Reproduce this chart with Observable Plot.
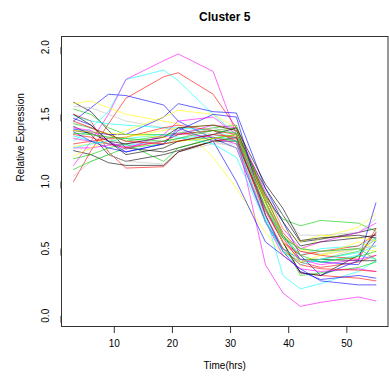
<!DOCTYPE html>
<html>
<head>
<meta charset="utf-8">
<script src="https://cdn.jsdelivr.net/npm/d3@7"></script>
<script src="https://cdn.jsdelivr.net/npm/@observablehq/plot@0.6"></script>
<style>
  html, body { margin: 0; padding: 0; background: #fff; }
  #chart svg { display: block; overflow: visible; }
</style>
</head>
<body>
<div id="chart"></div>
<script>
// ---- data ----
const title = "Cluster 5";
const xLabel = "Time(hrs)";
const yLabel = "Relative Expression";
const times = [3, 6, 9, 12, 18.5, 21, 27, 31, 36, 39, 42, 45.5, 52, 55];
const xTicks = [10, 20, 30, 40, 50];
const yTicks = [0, 0.5, 1, 1.5, 2];

// R default palette names
const paletteColors = {
  black: "#000000", red: "#FF0000", green: "#00CD00", blue: "#0000FF",
  cyan: "#00FFFF", magenta: "#FF00FF", yellow: "#FFFF00", gray: "#BEBEBE"
};

const geneColors = [
  "black", "red", "green", "blue", "cyan", "magenta", "yellow", "gray",
  "black", "red", "green", "blue", "cyan", "magenta", "yellow", "gray",
  "black", "red", "green", "blue", "cyan", "magenta", "yellow", "gray",
  "black", "red", "green", "blue", "cyan", "magenta", "yellow", "gray",
  "black", "red", "green"
];

const geneProfiles = [
  [1.59, 1.52, 1.38, 1.25, 1.22, 1.25, 1.32, 1.35, 0.95, 0.75, 0.55, 0.57, 0.62, 0.65],
  [1.00, 1.23, 1.43, 1.62, 1.78, 1.81, 1.65, 1.40, 0.85, 0.58, 0.40, 0.36, 0.40, 0.45],
  [1.54, 1.50, 1.40, 1.35, 1.35, 1.36, 1.40, 1.42, 0.86, 0.72, 0.67, 0.71, 0.69, 0.63],
  [1.45, 1.55, 1.65, 1.64, 1.57, 1.45, 1.32, 1.25, 0.70, 0.50, 0.42, 0.40, 0.38, 0.56],
  [1.30, 1.40, 1.52, 1.76, 1.83, 1.75, 1.50, 1.35, 0.75, 0.30, 0.20, 0.24, 0.33, 0.41],
  [1.12, 1.30, 1.50, 1.76, 1.90, 1.95, 1.82, 1.35, 0.38, 0.17, 0.07, 0.10, 0.14, 0.11],
  [1.58, 1.60, 1.55, 1.50, 1.45, 1.43, 1.18, 0.95, 0.62, 0.45, 0.48, 0.58, 0.66, 0.76],
  [1.56, 1.55, 1.50, 1.45, 1.40, 1.38, 1.35, 1.32, 0.90, 0.75, 0.60, 0.60, 0.62, 0.72],

  [1.41, 1.35, 1.20, 1.15, 1.20, 1.23, 1.30, 1.33, 0.85, 0.60, 0.42, 0.42, 0.41, 0.41],
  [1.50, 1.45, 1.22, 1.10, 1.11, 1.22, 1.30, 1.32, 0.80, 0.55, 0.32, 0.30, 0.28, 0.26],
  [1.43, 1.40, 1.35, 1.30, 1.34, 1.35, 1.38, 1.40, 0.85, 0.55, 0.30, 0.32, 0.36, 0.40],
  [1.39, 1.37, 1.35, 1.35, 1.48, 1.58, 1.52, 1.51, 0.95, 0.70, 0.45, 0.30, 0.41, 0.84],
  [1.49, 1.45, 1.43, 1.42, 1.40, 1.40, 1.38, 1.32, 0.82, 0.58, 0.45, 0.50, 0.52, 0.58],
  [1.32, 1.30, 1.28, 1.26, 1.30, 1.35, 1.42, 1.40, 0.92, 0.65, 0.50, 0.55, 0.62, 0.69],
  [1.26, 1.28, 1.32, 1.38, 1.48, 1.53, 1.50, 1.40, 0.85, 0.60, 0.50, 0.45, 0.50, 0.48],
  [1.04, 1.15, 1.20, 1.15, 1.13, 1.22, 1.28, 1.28, 0.82, 0.60, 0.48, 0.46, 0.50, 0.52],

  [1.23, 1.20, 1.14, 1.12, 1.12, 1.22, 1.30, 1.30, 0.80, 0.55, 0.32, 0.30, 0.45, 0.62],
  [1.28, 1.30, 1.32, 1.33, 1.40, 1.42, 1.38, 1.30, 0.78, 0.55, 0.45, 0.48, 0.52, 0.61],
  [1.09, 1.15, 1.20, 1.25, 1.28, 1.30, 1.33, 1.30, 0.70, 0.48, 0.40, 0.42, 0.48, 0.57],
  [1.47, 1.42, 1.30, 1.22, 1.28, 1.40, 1.30, 1.00, 0.55, 0.45, 0.35, 0.26, 0.23, 0.23],
  [1.34, 1.30, 1.28, 1.27, 1.30, 1.32, 1.35, 1.30, 0.72, 0.50, 0.42, 0.40, 0.45, 0.42],
  [1.25, 1.25, 1.27, 1.28, 1.33, 1.36, 1.33, 1.28, 0.70, 0.45, 0.35, 0.33, 0.35, 0.33],
  [1.19, 1.25, 1.30, 1.33, 1.38, 1.40, 1.42, 1.38, 0.90, 0.65, 0.55, 0.60, 0.58, 0.56],
  [1.44, 1.40, 1.32, 1.28, 1.30, 1.32, 1.30, 1.25, 0.75, 0.50, 0.40, 0.42, 0.50, 0.58],

  [1.38, 1.36, 1.30, 1.28, 1.33, 1.40, 1.42, 1.38, 0.90, 0.70, 0.52, 0.55, 0.58, 0.60],
  [1.35, 1.33, 1.28, 1.25, 1.30, 1.35, 1.38, 1.35, 0.88, 0.62, 0.48, 0.45, 0.42, 0.65],
  [1.17, 1.20, 1.25, 1.28, 1.15, 1.25, 1.32, 1.35, 0.90, 0.60, 0.45, 0.40, 0.44, 0.48],
  [1.37, 1.30, 1.25, 1.22, 1.28, 1.38, 1.50, 1.48, 0.75, 0.48, 0.33, 0.27, 0.30, 0.28],
  [1.25, 1.28, 1.30, 1.32, 1.35, 1.33, 1.28, 1.18, 0.70, 0.48, 0.38, 0.42, 0.47, 0.52],
  [1.40, 1.38, 1.30, 1.24, 1.35, 1.45, 1.48, 1.35, 0.80, 0.55, 0.42, 0.38, 0.42, 0.45],
  [1.38, 1.37, 1.36, 1.35, 1.33, 1.30, 1.32, 1.35, 0.82, 0.55, 0.40, 0.45, 0.55, 0.50],
  [1.36, 1.35, 1.33, 1.32, 1.28, 1.32, 1.40, 1.36, 0.80, 0.58, 0.50, 0.48, 0.50, 0.52],

  [1.50, 1.42, 1.30, 1.20, 1.25, 1.30, 1.35, 1.40, 0.98, 0.80, 0.56, 0.58, 0.60, 0.58],
  [1.45, 1.40, 1.35, 1.30, 1.28, 1.30, 1.35, 1.33, 0.75, 0.50, 0.38, 0.35, 0.34, 0.33],
  [1.36, 1.35, 1.33, 1.32, 1.30, 1.32, 1.38, 1.36, 0.80, 0.58, 0.50, 0.48, 0.50, 0.42]
];

// ---- build table for the library ----
const rows = geneProfiles.flatMap((vals, i) =>
  vals.map((v, j) => ({gene: i, t: times[j], v, color: paletteColors[geneColors[i]]}))
);

const font = "'Liberation Sans', Arial, Helvetica, sans-serif";

const chart = Plot.plot({
  width: 389,
  height: 380,
  marginLeft: 61,
  marginRight: 1.5,
  marginTop: 36,
  marginBottom: 54,
  style: {fontFamily: font, fontSize: "10px", color: "#000", background: "#fff"},
  x: {domain: [0.92, 57.08]},
  y: {domain: [-0.08, 2.08]},
  color: {type: "identity"},
  marks: [
    Plot.line(rows, {x: "t", y: "v", z: "gene", stroke: "color", strokeWidth: 1, strokeOpacity: 0.6}),
    Plot.frame({stroke: "#333", strokeWidth: 1}),
    Plot.axisX({ticks: xTicks, tickSize: 7, tickPadding: 6, label: null, stroke: "#333", fontSize: 10}),
    Plot.axisY({ticks: yTicks, tickSize: 7, tickPadding: 6, label: null, rotate: -90,
                textAnchor: "middle", lineAnchor: "bottom", tickFormat: d => d.toFixed(1), stroke: "#333", fontSize: 10}),
    Plot.text([xLabel], {frameAnchor: "bottom", dy: 42, fontSize: 10, fill: "#000"}),
    Plot.text([yLabel], {frameAnchor: "left", dx: -41, rotate: -90, fontSize: 10, fill: "#000"}),
    Plot.text([title], {frameAnchor: "top", dy: -24, fontSize: 12, fontWeight: "bold", fill: "#000"})
  ]
});
document.getElementById("chart").appendChild(chart);
</script>
</body>
</html>
